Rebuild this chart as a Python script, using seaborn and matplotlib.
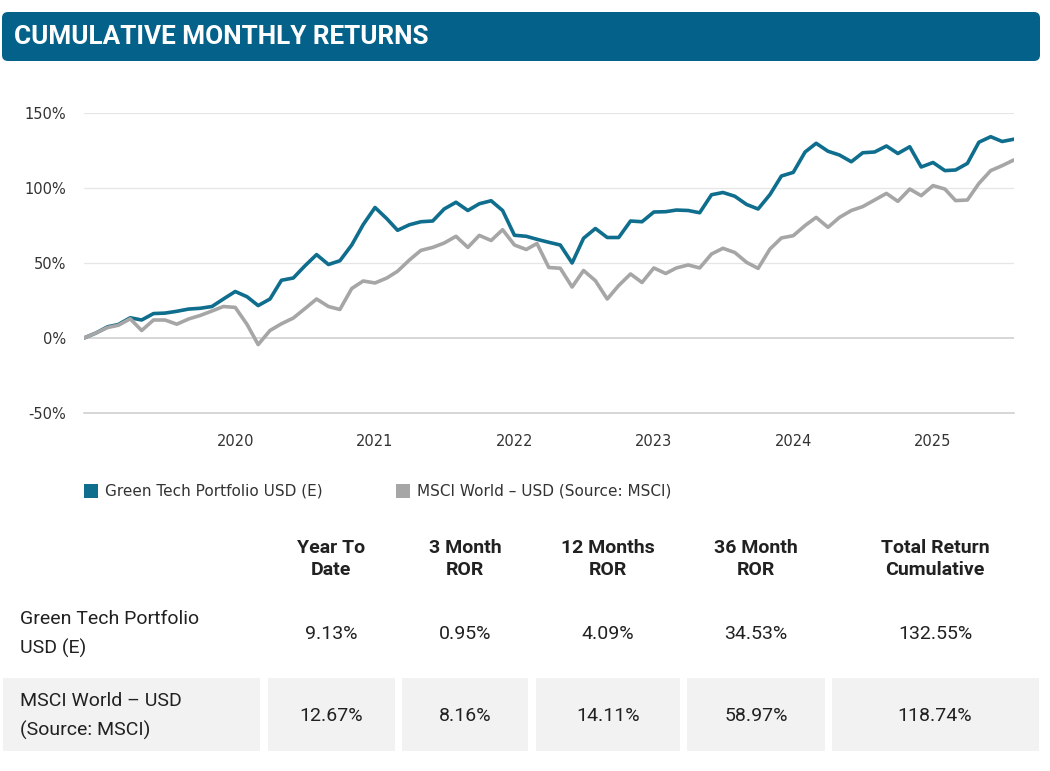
import numpy as np
import pandas as pd
import matplotlib
matplotlib.use("Agg")
import matplotlib.pyplot as plt
import matplotlib.dates as mdates
from matplotlib.patches import FancyBboxPatch, Rectangle
from matplotlib.ticker import FuncFormatter
import seaborn as sns

# monthly cumulative returns (%), Dec 2018 - Aug 2025
dates = pd.date_range("2018-12-01", periods=81, freq="MS")

green_tech = [
    0, 3.3, 7.5, 9, 13.5, 12, 16.3, 16.6, 17.8, 19.3, 19.8, 21, 26,
    31, 27.5, 21.6, 26, 38.5, 40, 48, 55.6, 49, 51.5, 62, 75.6,
    87, 79.5, 71.8, 75.5, 77.5, 78, 86, 90.5, 85, 89.5, 91.5, 85,
    68.5, 67.8, 65.8, 63.8, 62, 50, 66.5, 73, 67, 67, 78, 77.5,
    84, 84.2, 85.3, 85, 83.5, 95.5, 97, 94.5, 89, 86, 95.6, 108,
    110.4, 124, 129.8, 124.5, 122, 117.5, 123.5, 124, 128, 123, 127.5, 114,
    117, 111.6, 112, 116.4, 130.5, 134.2, 131, 132.55,
]

msci_world = [
    0, 3.3, 7, 8.5, 12.8, 5, 12, 12, 9.2, 12.7, 15, 18, 21,
    20.4, 9, -4.4, 5, 9.5, 13.3, 19.5, 26, 21, 19, 33, 38,
    36.7, 40, 44.5, 52, 58.4, 60.4, 63.3, 67.8, 60.4, 68.4, 65, 72.2,
    62, 59, 63, 47, 46.5, 34, 45, 38.2, 26, 35, 42.7, 37,
    46.7, 43, 46.7, 48.7, 46.7, 56, 59.8, 57, 50.4, 46.4, 59.3, 66.7,
    68.2, 75, 80.4, 73.8, 80.4, 85, 87.6, 92, 96.4, 91.1, 99.3, 94.9,
    101.6, 99.3, 91.6, 92, 103, 111.6, 114.9, 118.74,
]

series_names = ["Green Tech Portfolio USD (E)", "MSCI World \u2013 USD (Source: MSCI)"]
series_colors = ["#0f6e8d", "#a6a6a6"]
year_ticks = ["2020", "2021", "2022", "2023", "2024", "2025"]

# performance table
col_headers = ["Year To\nDate", "3 Month\nROR", "12 Months\nROR", "36 Month\nROR", "Total Return\nCumulative"]
row_labels = ["Green Tech Portfolio\nUSD (E)", "MSCI World \u2013 USD\n(Source: MSCI)"]
green_stats = ["9.13%", "0.95%", "4.09%", "34.53%", "132.55%"]
msci_stats = ["12.67%", "8.16%", "14.11%", "58.97%", "118.74%"]

W, H = 1050, 771

sns.set_style("white")
plt.rcParams["font.family"] = ["DejaVu Sans"]

fig = plt.figure(figsize=(W / 100, H / 100), dpi=100)
fig.patch.set_facecolor("white")


def fx(x):
    return x / W


def fy(y):
    return 1 - y / H


# header bar
bar = FancyBboxPatch((2 / 100, (H - 61) / 100), 1038 / 100, 49 / 100,
                     boxstyle="round,pad=0,rounding_size=0.06",
                     transform=fig.dpi_scale_trans, facecolor="#03618a",
                     edgecolor="none")
fig.patches.append(bar)
fig.text(fx(14), fy(37), "CUMULATIVE MONTHLY RETURNS", color="white",
         fontsize=18.8, fontweight="bold", family="Roboto", va="center", ha="left")

# line chart
ax = fig.add_axes([fx(84), fy(413), fx(1014) - fx(84), fy(113) - fy(413)])
df = pd.DataFrame({"date": np.tile(dates, 2),
                   "value": green_tech + msci_world,
                   "series": np.repeat(series_names, len(dates))})
sns.lineplot(data=df, x="date", y="value", hue="series", palette=series_colors,
             linewidth=2.6, ax=ax, legend=False)
for line in ax.lines:
    line.set_solid_joinstyle("round")
    line.set_solid_capstyle("round")

ax.set_ylim(-50, 150)
ax.set_xlim(dates[0], dates[-1])
ax.set_yticks([-50, 0, 50, 100, 150])
ax.yaxis.set_major_formatter(FuncFormatter(lambda v, p: f"{v:.0f}%"))
ax.set_xticks([pd.Timestamp(f"{y}-01-01") for y in year_ticks])
ax.xaxis.set_major_formatter(mdates.DateFormatter("%Y"))
ax.set_xlabel("")
ax.set_ylabel("")

for v in [50, 100, 150]:
    ax.axhline(v, color="#e6e6e6", linewidth=0.9, zorder=0)
ax.axhline(0, color="#cccccc", linewidth=1.1, zorder=0)

for side in ["left", "right", "top"]:
    ax.spines[side].set_visible(False)
ax.spines["bottom"].set_color("#cccccc")
ax.spines["bottom"].set_linewidth(1.1)
ax.tick_params(axis="y", length=0, pad=13, labelsize=10.5, labelcolor="#333333")
ax.tick_params(axis="x", length=6, width=1, color="#cccccc", pad=9,
               labelsize=10.5, labelcolor="#333333")
for lab in ax.get_xticklabels() + ax.get_yticklabels():
    lab.set_family("DejaVu Sans")

# legend
legend_pos = [(84, 105), (396, 417)]
for (sx, tx), name, col in zip(legend_pos, series_names, series_colors):
    fig.patches.append(Rectangle((fx(sx), fy(498)), fx(14), 14 / H,
                                 transform=fig.transFigure, facecolor=col,
                                 edgecolor="none"))
    fig.text(fx(tx), fy(491), name, fontsize=11, color="#333333",
             family="DejaVu Sans", va="center", ha="left")

# table
col_centers = [331, 465, 608, 756, 935]
box_edges = [(3, 260), (268, 395), (402, 528), (536, 680), (687, 825), (832, 1039)]
for x0, x1 in box_edges:
    fig.patches.append(Rectangle((fx(x0), fy(751)), fx(x1 - x0), 73 / H,
                                 transform=fig.transFigure, facecolor="#f2f2f2",
                                 edgecolor="none"))

tfont = dict(family="Roboto", fontsize=14, color="#212121")
for cx, head in zip(col_centers, col_headers):
    fig.text(fx(cx), fy(559), head, ha="center", va="center",
             fontweight="bold", linespacing=1.35, **tfont)

fig.text(fx(20), fy(634), row_labels[0], ha="left", va="center",
         linespacing=1.75, **tfont)
fig.text(fx(20), fy(716), row_labels[1], ha="left", va="center",
         linespacing=1.75, **tfont)
for cx, a, b in zip(col_centers, green_stats, msci_stats):
    fig.text(fx(cx), fy(634), a, ha="center", va="center", **tfont)
    fig.text(fx(cx), fy(716), b, ha="center", va="center", **tfont)

fig.savefig("out.png", dpi=100, facecolor="white")
